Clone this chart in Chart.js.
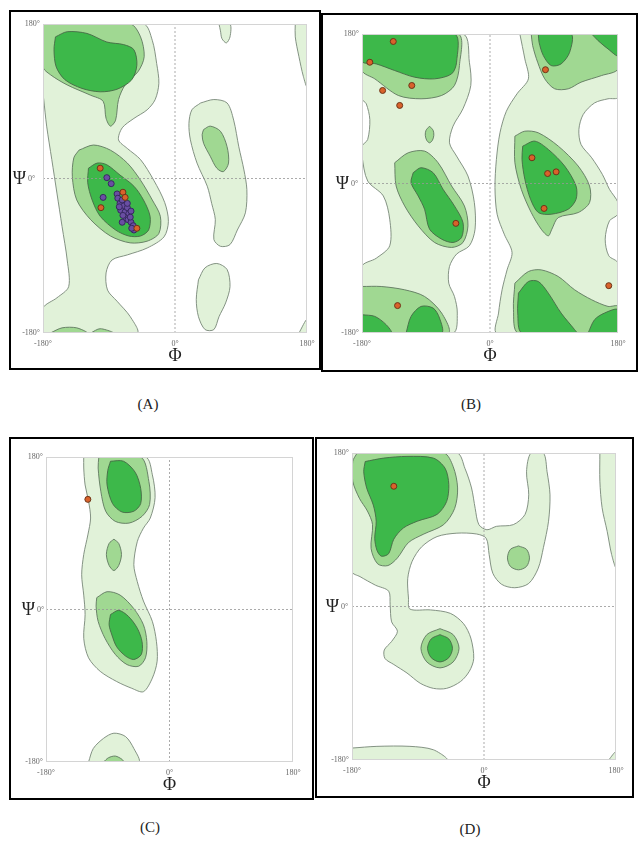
<!DOCTYPE html>
<html>
<head>
<meta charset="utf-8">
<script src="https://cdn.jsdelivr.net/npm/chart.js@4.4.1/dist/chart.umd.min.js"></script>
<style>
body { margin:0; background:#fff; width:640px; height:841px; position:relative; overflow:hidden; font-family:"Liberation Serif", serif; }
canvas { position:absolute; }
.frame { position:absolute; border:2px solid #000; box-sizing:border-box; pointer-events:none; }
.cap { position:absolute; font-size:15px; transform:translateX(-50%); color:#222; }
</style>
</head>
<body>
<canvas id="pa" width="312" height="360" style="left:9px;top:10px"></canvas>
<canvas id="pb" width="317" height="359" style="left:321px;top:13px"></canvas>
<canvas id="pc" width="305" height="363" style="left:9px;top:437px"></canvas>
<canvas id="pd" width="319" height="361" style="left:315px;top:437px"></canvas>
<div class="frame" style="left:9px;top:10px;width:312px;height:360px"></div>
<div class="frame" style="left:321px;top:13px;width:317px;height:359px"></div>
<div class="frame" style="left:9px;top:437px;width:305px;height:363px"></div>
<div class="frame" style="left:315px;top:437px;width:319px;height:361px"></div>
<div class="cap" style="left:148px;top:396px">(A)</div>
<div class="cap" style="left:471px;top:396px">(B)</div>
<div class="cap" style="left:150px;top:819px">(C)</div>
<div class="cap" style="left:470px;top:821px">(D)</div>
<script>
// contour regions, [phi, psi] in degrees

// --- (A)
const aLight1 = [[-180,180],[-43,180],[-31,161],[-25,134],[-22,111],[-27,92],[-38,80],[-56,70],[-72,59],[-77,45],[-65,35],[-47,22],[-29,-2],[-14,-28],[-9,-50],[-15,-68],[-38,-81],[-65,-89],[-86,-95],[-94,-110],[-92,-130],[-79,-143],[-61,-161],[-52,-180],[-180,-180],[-180,-151],[-161,-139],[-145,-126],[-147,-95],[-154,-56],[-161,-17],[-168,22],[-175,61],[-179,92],[-180,100],[-180,180]];
const aLight2 = [[35,88],[53,92],[71,88],[80,68],[87,37],[94,10],[98,-13],[96,-40],[85,-60],[75,-77],[62,-79],[53,-71],[55,-48],[50,-29],[44,-9],[30,18],[21,45],[19,64],[23,80],[35,88]];
const aLight3 = [[32,-118],[41,-104],[57,-99],[71,-106],[75,-126],[69,-145],[60,-161],[53,-176],[41,-176],[32,-161],[29,-141],[32,-118]];
const aLight4 = [[60,180],[75,180],[75,165],[70,158],[64,163],[62,172],[60,180]];
const aLight5 = [[164,180],[180,180],[180,107],[175,119],[169,142],[164,165],[164,180]];
const aLight6 = [[169,-180],[180,-164],[180,-180],[169,-180]];
const aMid1 = [[-180,180],[-61,180],[-47,165],[-42,142],[-50,125],[-68,109],[-77,92],[-81,68],[-88,61],[-94,70],[-98,90],[-115,97],[-147,109],[-170,121],[-180,130],[-180,180]];
const aMid2 = [[-131,33],[-111,39],[-88,33],[-65,18],[-47,-2],[-31,-25],[-20,-44],[-22,-64],[-38,-73],[-61,-75],[-88,-67],[-115,-48],[-134,-25],[-140,2],[-138,24],[-131,33]];
const aMid3 = [[39,57],[48,61],[62,55],[71,37],[73,18],[66,8],[57,12],[48,26],[39,41],[37,51],[39,57]];
const aMid4 = [[-170,-180],[-154,-174],[-134,-174],[-120,-180],[-170,-180]];
const aMid5 = [[-115,-180],[-102,-175],[-84,-180],[-115,-180]];
const aDark1 = [[-163,165],[-147,171],[-120,169],[-93,159],[-70,156],[-56,150],[-52,132],[-59,115],[-79,104],[-102,101],[-127,105],[-150,115],[-162,130],[-165,150],[-163,165]];
const aDark2 = [[-118,12],[-106,18],[-93,16],[-75,4],[-56,-9],[-43,-25],[-34,-44],[-36,-60],[-47,-67],[-63,-67],[-81,-60],[-102,-44],[-113,-25],[-119,-5],[-118,12]];
const aPurplePhi = [-93,-87,-98,-79,-78,-75,-72,-70,-74,-68,-65,-63,-67,-71,-64,-60,-61,-57,-56,-76,-65,-60,-72,-59];
const aPurplePsi = [1,-6,-22,-18,-23,-29,-25,-32,-37,-39,-34,-41,-46,-43,-48,-51,-45,-55,-60,-33,-29,-38,-51,-58];
const aOrangePhi = [-102,-101,-71,-52,-68];
const aOrangePsi = [12,-34,-16,-58,-22];

// --- (B)
const bLight1 = [[-180,180],[-38,180],[-29,146],[-27,118],[-38,90],[-52,69],[-57,49],[-47,33],[-31,9],[-22,-23],[-21,-55],[-29,-75],[-47,-85],[-57,-100],[-58,-120],[-50,-136],[-46,-156],[-52,-180],[-180,-180],[-180,-100],[-160,-90],[-141,-75],[-141,-43],[-150,-15],[-172,3],[-180,33],[-180,45],[-172,53],[-169,77],[-174,96],[-180,102],[-180,180]];
const bLight2 = [[42,180],[180,180],[180,104],[166,102],[147,97],[131,83],[125,65],[128,47],[143,31],[158,11],[168,-7],[180,-23],[180,-37],[168,-45],[162,-67],[167,-87],[180,-96],[180,-180],[10,-180],[12,-156],[17,-128],[24,-104],[31,-83],[20,-61],[10,-37],[7,-5],[9,29],[14,61],[23,87],[38,108],[54,126],[49,150],[42,180]];
const bMid1 = [[-180,180],[-45,180],[-43,142],[-50,118],[-68,106],[-97,102],[-129,106],[-162,126],[-180,136],[-180,180]];
const bMid2 = [[-85,69],[-80,64],[-79,58],[-81,52],[-85,49],[-89,52],[-91,58],[-90,64],[-85,69]];
const bMid3 = [[-134,25],[-115,37],[-92,39],[-73,25],[-54,-3],[-36,-27],[-31,-51],[-38,-71],[-54,-77],[-78,-71],[-101,-51],[-120,-27],[-132,-3],[-134,25]];
const bMid4 = [[58,180],[180,180],[180,138],[157,130],[128,122],[110,114],[91,114],[77,126],[67,146],[60,166],[58,180]];
const bMid5 = [[35,57],[49,63],[68,61],[96,45],[124,21],[140,-3],[140,-23],[124,-35],[96,-41],[87,-55],[82,-63],[72,-55],[58,-35],[44,-7],[35,25],[35,57]];
const bMid6 = [[35,-120],[54,-106],[72,-104],[96,-112],[119,-128],[143,-140],[166,-148],[180,-148],[180,-180],[40,-180],[33,-152],[35,-120]];
const bMid7 = [[-180,-124],[-153,-124],[-120,-128],[-92,-136],[-68,-156],[-59,-180],[-180,-180],[-180,-124]];
const bDark1 = [[-180,180],[-50,180],[-47,146],[-54,132],[-78,126],[-106,128],[-134,136],[-160,144],[-180,147],[-180,180]];
const bDark2 = [[-108,13],[-97,19],[-80,13],[-66,-7],[-50,-27],[-38,-47],[-40,-65],[-52,-71],[-68,-67],[-85,-55],[-92,-31],[-101,-15],[-111,1],[-108,13]];
const bDark3 = [[68,180],[114,180],[112,158],[100,144],[86,142],[75,154],[69,170],[68,180]];
const bDark4 = [[143,180],[180,180],[180,154],[166,162],[152,172],[143,180]];
const bDark5 = [[46,45],[63,51],[82,41],[105,21],[121,-3],[121,-19],[110,-31],[86,-37],[68,-35],[57,-19],[49,5],[45,29],[46,45]];
const bDark6 = [[40,-132],[54,-118],[68,-118],[82,-132],[100,-156],[119,-176],[122,-180],[45,-180],[39,-156],[40,-132]];
const bDark7 = [[138,-180],[147,-164],[161,-156],[180,-152],[180,-180],[138,-180]];
const bDark8 = [[-180,-158],[-162,-160],[-146,-170],[-139,-180],[-180,-180],[-180,-158]];
const bDark9 = [[-118,-180],[-111,-160],[-97,-148],[-80,-150],[-71,-162],[-68,-180],[-118,-180]];
const bOrangePhi = [-136,-169,-110,-151,-127,78,59,81,93,76,-48,167,-130];
const bOrangePsi = [171,146,118,112,94,137,31,12,14,-30,-48,-123,-147];

// --- (C)
const cLight1 = [[-125,180],[-35,180],[-25,159],[-21,132],[-28,108],[-38,96],[-47,80],[-52,53],[-47,33],[-38,10],[-25,-14],[-19,-38],[-18,-61],[-25,-81],[-38,-97],[-55,-93],[-77,-85],[-101,-73],[-118,-57],[-125,-34],[-123,-6],[-125,17],[-128,41],[-125,65],[-119,88],[-115,108],[-118,128],[-123,147],[-125,167],[-125,180]];
const cLight2 = [[-118,-180],[-111,-164],[-96,-152],[-81,-146],[-64,-150],[-52,-164],[-45,-180],[-118,-180]];
const cMid1 = [[-103,180],[-42,180],[-30,151],[-29,124],[-40,110],[-59,102],[-79,104],[-93,116],[-100,139],[-104,167],[-103,180]];
const cMid2 = [[-81,83],[-74,78],[-70,65],[-74,52],[-81,46],[-88,52],[-92,65],[-88,78],[-81,83]];
const cMid3 = [[-106,14],[-91,21],[-72,17],[-52,1],[-38,-18],[-33,-38],[-35,-57],[-45,-67],[-62,-65],[-79,-53],[-94,-34],[-104,-14],[-107,4],[-106,14]];
const cMid4 = [[-96,-180],[-89,-175],[-79,-173],[-69,-177],[-67,-180],[-96,-180]];
const cDark1 = [[-86,175],[-67,175],[-50,162],[-42,143],[-42,125],[-52,116],[-69,115],[-83,125],[-91,147],[-90,164],[-86,175]];
const cDark2 = [[-86,-6],[-74,-1],[-60,-8],[-47,-22],[-40,-38],[-41,-53],[-52,-59],[-64,-55],[-77,-44],[-84,-30],[-88,-18],[-86,-6]];
const cOrangePhi = [-119];
const cOrangePsi = [130];

// --- (D)
const dLight1 = [[-180,180],[-37,180],[-26,162],[-17,139],[-12,115],[-7,96],[4,90],[17,94],[40,96],[56,108],[61,131],[58,158],[64,180],[81,180],[86,158],[90,131],[88,100],[81,69],[74,45],[61,27],[42,22],[24,26],[12,39],[7,61],[3,80],[-10,85],[-37,86],[-64,82],[-85,70],[-98,53],[-104,33],[-103,10],[-101,-3],[-73,-4],[-46,-8],[-28,-20],[-18,-37],[-14,-61],[-20,-76],[-32,-88],[-51,-96],[-69,-96],[-87,-90],[-105,-78],[-123,-68],[-135,-61],[-136,-51],[-126,-41],[-118,-29],[-126,-18],[-128,2],[-130,18],[-148,25],[-169,35],[-180,41],[-180,180]];
const dLight2 = [[158,180],[180,180],[180,46],[174,61],[168,88],[161,116],[158,147],[158,180]];
const dLight3 = [[-180,-166],[-146,-164],[-101,-164],[-69,-168],[-51,-180],[-180,-180],[-180,-166]];
const dLight4 = [[170,-180],[180,-170],[180,-180],[170,-180]];
const dMid1 = [[-173,180],[-55,180],[-42,164],[-36,139],[-40,115],[-55,96],[-82,85],[-103,75],[-118,57],[-131,48],[-145,50],[-154,68],[-152,96],[-159,112],[-170,127],[-179,147],[-179,170],[-173,180]];
const dMid2 = [[47,71],[58,67],[62,57],[58,47],[47,43],[36,47],[32,57],[36,67],[47,71]];
const dMid3 = [[-60,-26],[-42,-33],[-34,-49],[-42,-65],[-60,-72],[-78,-65],[-86,-49],[-78,-33],[-60,-26]];
const dDark1 = [[-162,170],[-137,174],[-105,176],[-69,174],[-53,162],[-48,143],[-51,123],[-64,108],[-91,100],[-110,92],[-123,79],[-130,62],[-140,59],[-146,66],[-149,80],[-147,100],[-151,119],[-160,139],[-164,158],[-162,170]];
const dDark2 = [[-60,-33],[-48,-38],[-43,-49],[-48,-60],[-60,-65],[-72,-60],[-77,-49],[-72,-38],[-60,-33]];
const dOrangePhi = [-123];
const dOrangePsi = [141];

const tickVals = [-180, 0, 180];

const FILL = { light: '#e1f2d9', mid: '#a0d892', dark: '#3db84a' };
const EDGE = { light: 'rgba(120,135,120,0.9)', mid: 'rgba(95,120,95,0.9)', dark: 'rgba(70,105,70,0.9)' };
const ORANGE = { fill: '#d9622b', edge: '#6e3518' };
const PURPLE = { fill: '#6a4ea3', edge: '#36295f' };

const panels = [
  { id: 'pa', pad: { left: 34, top: 14, right: 14, bottom: 37 }, psiOff: 17,
    light: [aLight1, aLight2, aLight3, aLight4, aLight5, aLight6],
    mid: [aMid1, aMid2, aMid3, aMid4, aMid5],
    dark: [aDark1, aDark2],
    dots: [[aPurplePhi, aPurplePsi, PURPLE], [aOrangePhi, aOrangePsi, ORANGE]] },
  { id: 'pb', pad: { left: 41, top: 21, right: 20, bottom: 39 }, psiOff: 13,
    light: [bLight1, bLight2],
    mid: [bMid1, bMid2, bMid3, bMid4, bMid5, bMid6, bMid7],
    dark: [bDark1, bDark2, bDark3, bDark4, bDark5, bDark6, bDark7, bDark8, bDark9],
    dots: [[bOrangePhi, bOrangePsi, ORANGE]] },
  { id: 'pc', pad: { left: 37, top: 20, right: 21, bottom: 38 }, psiOff: 11,
    light: [cLight1, cLight2],
    mid: [cMid1, cMid2, cMid3, cMid4],
    dark: [cDark1, cDark2],
    dots: [[cOrangePhi, cOrangePsi, ORANGE]] },
  { id: 'pd', pad: { left: 37, top: 16, right: 18, bottom: 38 }, psiOff: 13,
    light: [dLight1, dLight2, dLight3, dLight4],
    mid: [dMid1, dMid2, dMid3],
    dark: [dDark1, dDark2],
    dots: [[dOrangePhi, dOrangePsi, ORANGE]] }
];

function region(pts, kind) {
  return {
    type: 'line',
    data: pts.map(p => ({ x: p[0], y: p[1] })),
    showLine: true,
    fill: 'shape',
    backgroundColor: FILL[kind],
    borderColor: EDGE[kind],
    borderWidth: 1,
    pointRadius: 0,
    tension: 0.3
  };
}

function zeroLine(pts) {
  return {
    type: 'line',
    data: pts,
    showLine: true,
    fill: false,
    borderColor: 'rgba(150,150,150,0.8)',
    borderWidth: 1,
    borderDash: [2, 2],
    pointRadius: 0
  };
}

// border of the plot and the degree labels
const frameLabels = {
  id: 'frameLabels',
  afterDatasetsDraw(chart) {
    const { ctx, chartArea: a } = chart;
    ctx.save();
    ctx.strokeStyle = '#d4d4d4';
    ctx.lineWidth = 1;
    ctx.strokeRect(a.left + 0.5, a.top + 0.5, a.right - a.left - 1, a.bottom - a.top - 1);
    ctx.restore();
  },
  afterDraw(chart) {
    const { ctx, chartArea: a, scales: { x, y } } = chart;
    const off = chart.options.plugins.frameLabels.psiOff;
    ctx.save();
    ctx.fillStyle = '#666';
    ctx.font = '8px "Liberation Serif"';
    ctx.textBaseline = 'middle';
    ctx.textAlign = 'right';
    ctx.fillText('180°', a.left - 3, y.getPixelForValue(180));
    ctx.fillText('-180°', a.left - 3, y.getPixelForValue(-180));
    ctx.textAlign = 'left';
    ctx.fillText('0°', a.left - off + 2, y.getPixelForValue(0));
    ctx.textAlign = 'center';
    tickVals.forEach(v => ctx.fillText(v + '°', x.getPixelForValue(v), a.bottom + 11));
    ctx.fillStyle = '#222';
    ctx.font = '18px "Liberation Serif"';
    ctx.textAlign = 'right';
    ctx.fillText('Ψ', a.left - off, y.getPixelForValue(0) + 1);
    ctx.textAlign = 'center';
    ctx.fillText('Φ', x.getPixelForValue(0), a.bottom + 23);
    ctx.restore();
  }
};

panels.forEach(p => {
  const ds = [];
  p.light.forEach(r => ds.push(region(r, 'light')));
  p.mid.forEach(r => ds.push(region(r, 'mid')));
  p.dark.forEach(r => ds.push(region(r, 'dark')));
  ds.push(zeroLine([{ x: -180, y: 0 }, { x: 180, y: 0 }]));
  ds.push(zeroLine([{ x: 0, y: -180 }, { x: 0, y: 180 }]));
  p.dots.forEach(d => ds.push({
    type: 'scatter',
    data: d[0].map((phi, i) => ({ x: phi, y: d[1][i] })),
    pointRadius: 3,
    pointBackgroundColor: d[2].fill,
    pointBorderColor: d[2].edge,
    pointBorderWidth: 1
  }));
  // first dataset at the bottom
  ds.forEach((d, i) => { d.order = ds.length - i; });

  new Chart(document.getElementById(p.id), {
    type: 'scatter',
    data: { datasets: ds },
    options: {
      responsive: false,
      animation: false,
      events: [],
      layout: { padding: p.pad },
      scales: {
        x: { type: 'linear', min: -180, max: 180, display: false },
        y: { type: 'linear', min: -180, max: 180, display: false }
      },
      plugins: {
        legend: { display: false },
        tooltip: { enabled: false },
        frameLabels: { psiOff: p.psiOff }
      }
    },
    plugins: [frameLabels]
  });
});
</script>
</body>
</html>
